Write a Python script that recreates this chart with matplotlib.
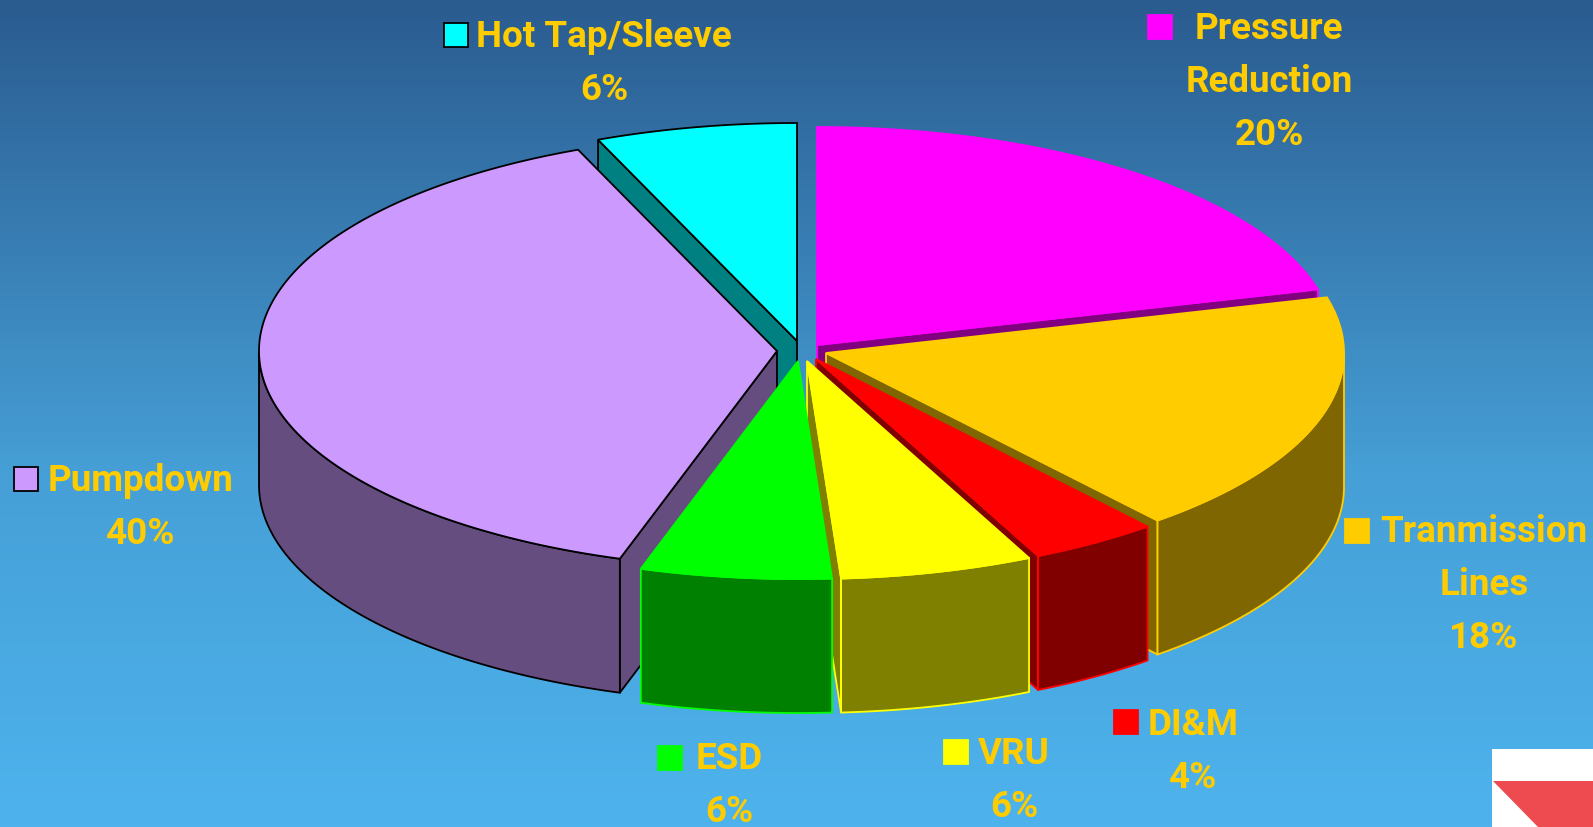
import numpy as np
import matplotlib.pyplot as plt
from matplotlib.patches import Rectangle

plt.rcParams['font.family'] = ['Roboto', 'Liberation Sans', 'DejaVu Sans']

# Slices clockwise from 12 o'clock
names = ['Pressure\nReduction', 'Tranmission\nLines', 'DI&M', 'VRU', 'ESD', 'Pumpdown', 'Hot Tap/Sleeve']
percent = [20, 18, 4, 6, 6, 40, 6]

# Colours
top_colors = ['#ff00ff', '#ffcc00', '#ff0000', '#ffff00', '#00ff00', '#cc99ff', '#00ffff']
side_colors = ['#800080', '#806600', '#800000', '#808000', '#008000', '#664d80', '#008080']
edge_colors = ['#ff00ff', '#ffcc00', '#ff0000', '#ffff00', '#00ff00', '#000000', '#000000']

# Where each exploded slice has its tip, in pixels
tip_x = [817, 826, 816, 807, 798, 777, 797]
tip_y = [346, 354, 360, 362, 362, 352, 342]

# Ellipse of the pie
rx, ry, depth = 518, 218, 134

# Label placement (centre x, first baseline, square left, square top)
label_x = [1269, 1484, 1193, 1014, 729, 141, 604]
label_y = [39, 542, 735, 764, 769, 491, 47]
square_x = [1148, 1345, 1114, 944, 658, 14, 444]
square_y = [16, 520, 711, 741, 747, 468, 24]
line_step = 53
gold = '#ffcc00'
lw = 1.3

# back to front, so nearer slices paint over the ones behind
draw_order = [6, 0, 5, 1, 2, 3, 4]


def warp(t):
    # the 3-D view bends the angles a little compared with a flat pie
    return t + np.radians(1.7 * (1 - np.cos(t) + np.sin(t)) + 0.7 * np.sin(2 * t))


def rim(t0, t1, cx, cy):
    t = warp(np.linspace(t0, t1, 400))
    return t, cx + rx * np.sin(t), cy - ry * np.cos(t)


fig = plt.figure(figsize=(15.93, 8.28), dpi=100)
ax = fig.add_axes([0, 0, 1, 1])
ax.set_xlim(0, 1593)
ax.set_ylim(828, 0)
ax.axis('off')

# Background gradient, brightens fast and then levels off
stops = [0, 0.58, 1]
reds = [42, 70, 78]
greens = [91, 160, 179]
blues = [143, 215, 237]
f = np.linspace(0, 1, 400)
grad = np.stack([np.interp(f, stops, reds), np.interp(f, stops, greens), np.interp(f, stops, blues)], axis=1)
ax.imshow(grad[:, None, :] / 255, extent=[0, 1593, 828, 0], aspect='auto', zorder=0)

bounds = np.radians(np.cumsum([0] + percent) * 3.6)

z = 1
for i in draw_order:
    cx, cy = tip_x[i], tip_y[i]
    t, xs, ys = rim(bounds[i], bounds[i + 1], cx, cy)

    # cut faces: only the ones turned towards the viewer
    faces = []
    if np.sin(t[0]) < 0:
        faces.append((xs[0], ys[0]))
    if np.sin(t[-1]) > 0:
        faces.append((xs[-1], ys[-1]))
    for x_end, y_end in faces:
        ax.fill([cx, x_end, x_end, cx], [cy, y_end, y_end + depth, cy + depth],
                facecolor=side_colors[i], edgecolor=edge_colors[i], lw=lw, zorder=z)
        z += 1

    # outer wall, front half of the ellipse only
    front = np.cos(t) <= 0
    if front.any():
        xf, yf = xs[front], ys[front]
        ax.fill(np.r_[xf, xf[::-1]], np.r_[yf, yf[::-1] + depth],
                facecolor=side_colors[i], edgecolor=edge_colors[i], lw=lw, zorder=z)
        z += 1

    # top face
    ax.fill(np.r_[cx, xs], np.r_[cy, ys],
            facecolor=top_colors[i], edgecolor=edge_colors[i], lw=lw, zorder=z)
    z += 1

# Labels
for i, name in enumerate(names):
    lines = name.split('\n') + [f'{percent[i]}%']
    for k, line in enumerate(lines):
        ax.text(label_x[i], label_y[i] + k * line_step, line, color=gold, fontsize=26.5,
                fontweight='bold', ha='center', va='baseline', zorder=100)
    ax.add_patch(Rectangle((square_x[i], square_y[i]), 24, 24, facecolor=top_colors[i],
                           edgecolor=edge_colors[i], lw=lw, zorder=100))

# Logo corner
ax.add_patch(Rectangle((1492, 750), 101, 78, facecolor='white', edgecolor='none', zorder=100))
ax.fill([1493, 1593, 1593, 1538], [782, 782, 828, 828], facecolor='#ee4b50', edgecolor='none', zorder=101)

fig.savefig('out.png', dpi=100)
